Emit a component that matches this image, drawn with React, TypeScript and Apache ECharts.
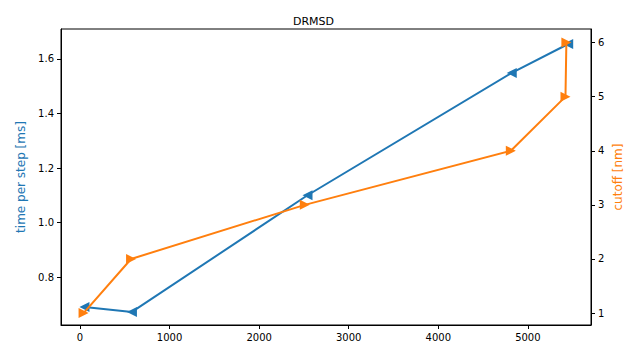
import React, { useEffect, useRef } from "react";
import * as echarts from "echarts";

const blueX = [50, 580, 2540, 4820, 5450];
const blueY = [0.69, 0.672, 1.1, 1.549, 1.655];
const orangeX = [40, 570, 2510, 4810, 5420, 5430];
const orangeY = [1, 2, 3, 4, 5, 6];
const xTicks = [0, 1000, 2000, 3000, 4000, 5000];
const leftTicks = [0.8, 1.0, 1.2, 1.4, 1.6];
const rightTicks = [1, 2, 3, 4, 5, 6];

export default function App() {
  const ref = useRef<HTMLDivElement>(null);
  useEffect(() => {
    const chart = echarts.init(ref.current!, null, { renderer: "svg" });
    const font = "DejaVu Sans";
    const tickStyle = { show: true, inside: false, length: 4, lineStyle: { color: "#000", width: 1 } };
    chart.setOption({
      animation: false,
      textStyle: { fontFamily: font },
      title: {
        text: "DRMSD",
        left: "center",
        top: 11,
        textStyle: { fontSize: 11, fontWeight: "normal", color: "#000", fontFamily: font },
      },
      grid: {
        left: 61,
        right: 36,
        top: 29,
        bottom: 20,
        show: true,
        borderColor: "#000",
        borderWidth: 1,
        backgroundColor: "transparent",
        containLabel: false,
        outerBoundsMode: "none",
      },
      xAxis: {
        type: "value",
        min: -212,
        max: 5705,
        splitLine: { show: false },
        axisLine: { show: true, onZero: false, lineStyle: { color: "#000" } },
        axisTick: { ...tickStyle, customValues: xTicks },
        axisLabel: {
          customValues: xTicks,
          color: "#000",
          fontSize: 10,
          margin: 7,
          fontFamily: font,
          formatter: (v: number) => String(Math.round(v)),
        },
      },
      yAxis: [
        {
          type: "value",
          position: "left",
          min: 0.624,
          max: 1.71,
          splitLine: { show: false },
          axisLine: { show: true, onZero: false, lineStyle: { color: "#000" } },
          axisTick: { ...tickStyle, customValues: leftTicks },
          axisLabel: {
            customValues: leftTicks,
            color: "#000",
            fontSize: 10,
            margin: 7,
            fontFamily: font,
            formatter: (v: number) => v.toFixed(1),
          },
          name: "time per step [ms]",
          nameLocation: "middle",
          nameGap: 40,
          nameRotate: 90,
          nameMoveOverlap: false,
          nameTextStyle: { color: "#1f77b4", fontSize: 12, fontFamily: font, verticalAlign: "middle" },
        },
        {
          type: "value",
          position: "right",
          min: 0.78,
          max: 6.25,
          splitLine: { show: false },
          axisLine: { show: true, onZero: false, lineStyle: { color: "#000" } },
          axisTick: { ...tickStyle, customValues: rightTicks },
          axisLabel: { customValues: rightTicks, color: "#000", fontSize: 10, margin: 7, fontFamily: font },
          name: "cutoff [nm]",
          nameLocation: "middle",
          nameGap: 27,
          nameRotate: 90,
          nameMoveOverlap: false,
          nameTextStyle: { color: "#ff7f0e", fontSize: 12, fontFamily: font, verticalAlign: "middle" },
        },
      ],
      series: [
        {
          type: "line",
          yAxisIndex: 0,
          data: blueX.map((x, i) => [x, blueY[i]]),
          symbol: "triangle",
          symbolRotate: 90,
          symbolSize: 10,
          showSymbol: true,
          lineStyle: { color: "#1f77b4", width: 2 },
          itemStyle: { color: "#1f77b4", borderWidth: 0 },
          z: 2,
        },
        {
          type: "line",
          yAxisIndex: 1,
          data: orangeX.map((x, i) => [x, orangeY[i]]),
          symbol: "triangle",
          symbolRotate: -90,
          symbolSize: 10,
          showSymbol: true,
          lineStyle: { color: "#ff7f0e", width: 2 },
          itemStyle: { color: "#ff7f0e", borderWidth: 0 },
          z: 3,
        },
      ],
    });
    return () => chart.dispose();
  }, []);
  return <div ref={ref} style={{ width: 627, height: 345, position: "absolute", left: 0, top: 0 }} />;
}
